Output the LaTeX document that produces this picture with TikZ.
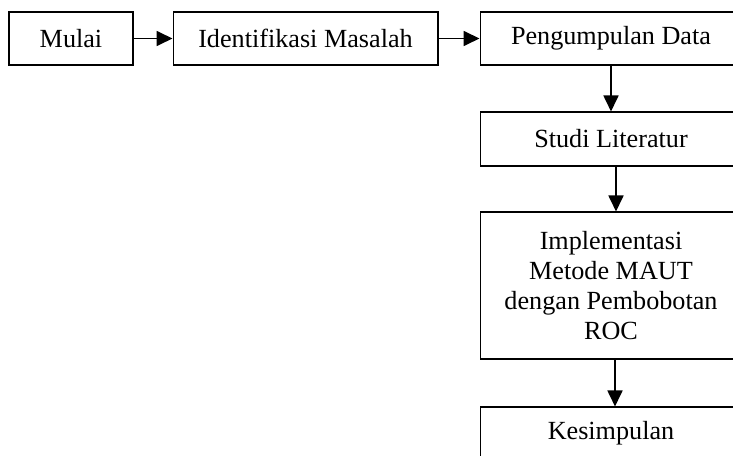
\documentclass[tikz,border=0pt]{standalone}
\usepackage{fontspec}
\setmainfont{Liberation Serif}
\usetikzlibrary{arrows.meta}

\begin{document}
\begin{tikzpicture}[
    x=0.02cm, y=-0.02cm,
    >={Triangle[length=0.32cm,width=0.3cm]},
    stepbox/.style={
        rectangle,
        draw=black,
        line width=0.6pt,
        minimum height=1.06cm,
        inner sep=2pt,
        font=\fontsize{14.9}{17.2}\selectfont,
        align=center
    },
    flow/.style={->,line width=1pt}
]
\useasboundingbox (0,0) rectangle (733,456);

% Top row
\node[stepbox,minimum width=2.48cm] (mulai) at (71,38.5) {Mulai};
\node[stepbox,minimum width=5.3cm] (identifikasi) at (305.5,38.5) {Identifikasi Masalah};
\node[stepbox,minimum width=5.24cm] (pengumpulan) at (611,38.5) {Pengumpulan Data};

% Right column
\node[stepbox,minimum width=5.24cm,minimum height=1.08cm] (studi) at (611,139) {Studi Literatur};
\node[stepbox,minimum width=5.24cm,minimum height=2.94cm] (implementasi) at (611,285.5) {Implementasi\\Metode MAUT\\dengan Pembobotan\\ROC};
\node[stepbox,minimum width=5.24cm] (kesimpulan) at (611,433.5) {Kesimpulan};

% Arrows
\draw[flow] (mulai) -- (identifikasi);
\draw[flow] (identifikasi) -- (pengumpulan);
\draw[flow] (pengumpulan) -- (studi);
\draw[flow] ([xshift=0.1cm]studi.south) -- ([xshift=0.1cm]implementasi.north);
\draw[flow] ([xshift=0.08cm]implementasi.south) -- ([xshift=0.08cm]kesimpulan.north);

\end{tikzpicture}
\end{document}
